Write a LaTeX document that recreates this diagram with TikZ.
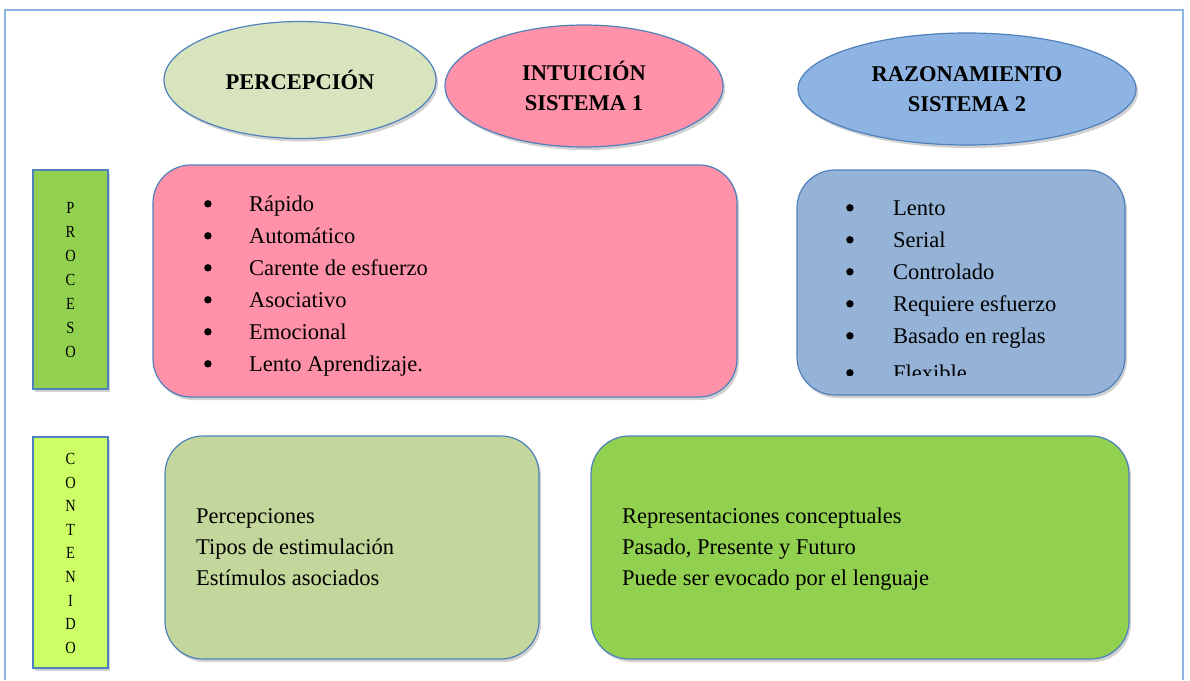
\documentclass[tikz,border=0pt]{standalone}
\usepackage{fontspec}
\setmainfont{Liberation Serif}
\usetikzlibrary{shapes.geometric,shadows}
\definecolor{bordblue}{HTML}{4F81BD}
\definecolor{framecol}{HTML}{8DB3E2}
\definecolor{percfill}{HTML}{D7E4BD}
\definecolor{pinkfill}{HTML}{FF91A8}
\definecolor{razfill}{HTML}{8EB4E3}
\definecolor{bluebox}{HTML}{95B3D7}
\definecolor{procfill}{HTML}{92D050}
\definecolor{contfill}{HTML}{CCFF66}
\definecolor{lgreen}{HTML}{C3D69B}
\definecolor{gbox}{HTML}{92D050}
\newcommand{\bigdot}{\raisebox{3.5pt}{\tikz\fill (0,0) circle (3.7pt);}}
\tikzset{
  shad/.style={drop shadow={shadow xshift=2pt,shadow yshift=-3pt,opacity=0.3,fill=black!60}},
  headell/.style={ellipse,draw=bordblue,line width=1.2pt,inner sep=0pt,shad,align=center,
    font=\fontsize{22.5}{30}\selectfont\bfseries},
  rbox/.style={rectangle,rounded corners=38pt,draw=bordblue,line width=1.2pt,inner sep=0pt,shad},
  sidebar/.style={rectangle,draw=bordblue,line width=1.2pt,inner sep=0pt,shad},
  item/.style={inner sep=0pt,anchor=base west,font=\fontsize{22.5}{27}\selectfont},
  vletter/.style={inner sep=0pt,font=\fontsize{17}{18}\selectfont,xscale=0.85},
}
\begin{document}
\begin{tikzpicture}[x=1pt,y=-1pt]
\useasboundingbox (0,0) rectangle (1190,680);
% outer frame
\draw[framecol,line width=1.8pt] (5,680) -- (5,10) -- (1183,10) -- (1183,680);

% heading ellipses
\node[headell,fill=percfill,minimum width=272pt,minimum height=117pt] (perc) at (300,80) {PERCEPCIÓN};
\node[headell,fill=pinkfill,minimum width=278pt,minimum height=122pt] (intu) at (584,86) {INTUICIÓN\\SISTEMA 1};
\node[headell,fill=razfill,minimum width=338pt,minimum height=112pt] (razo) at (967,89) {RAZONAMIENTO\\SISTEMA 2};

% side bars
\node[sidebar,fill=procfill,minimum width=75pt,minimum height=219pt] (proc) at (70.5,279.5) {};
\node[sidebar,fill=contfill,minimum width=75pt,minimum height=231pt] (cont) at (70.5,552.5) {};
\foreach \l [count=\i] in {P,R,O,C,E,S,O}
  \node[vletter] (pl\i) at (70.5,184+24*\i) {\l};
\foreach \l [count=\i] in {C,O,N,T,E,N,I,D,O}
  \node[vletter] (cl\i) at (70.5,435.4+23.6*\i) {\l};

% process boxes
\node[rbox,fill=pinkfill,minimum width=584pt,minimum height=232pt] (pbox) at (445,281) {};
\node[rbox,fill=bluebox,minimum width=328pt,minimum height=225pt] (bbox) at (961,282.5) {};

\foreach \t [count=\i] in {Rápido,Automático,Carente de esfuerzo,Asociativo,Emocional,Lento Aprendizaje.}
  \node[item] (pk\i) at (204,179+32*\i) {\makebox[45pt][l]{\bigdot}\t};

\foreach \t/\yy [count=\i] in {Lento/215,Serial/247,Controlado/279,Requiere esfuerzo/311,Basado en reglas/343}
  \node[item] (bl\i) at (846,\yy) {\makebox[47pt][l]{\bigdot}\t};
\begin{scope}
  \clip (797,170) rectangle (1125,375);
  \node[item] (bl6) at (846,380) {\makebox[47pt][l]{\bigdot}Flexible};
\end{scope}

% content boxes
\node[rbox,fill=lgreen,minimum width=374pt,minimum height=223pt] (lbox) at (352,547.5) {};
\node[rbox,fill=gbox,minimum width=538pt,minimum height=223pt] (gbx) at (860,547.5) {};

\foreach \t [count=\i] in {Percepciones,Tipos de estimulación,Estímulos asociados}
  \node[item] (lt\i) at (196,492+31*\i) {\t};
\foreach \t [count=\i] in {Representaciones conceptuales,{Pasado, Presente y Futuro},Puede ser evocado por el lenguaje}
  \node[item] (gt\i) at (622,492+31*\i) {\t};
\end{tikzpicture}
\end{document}
